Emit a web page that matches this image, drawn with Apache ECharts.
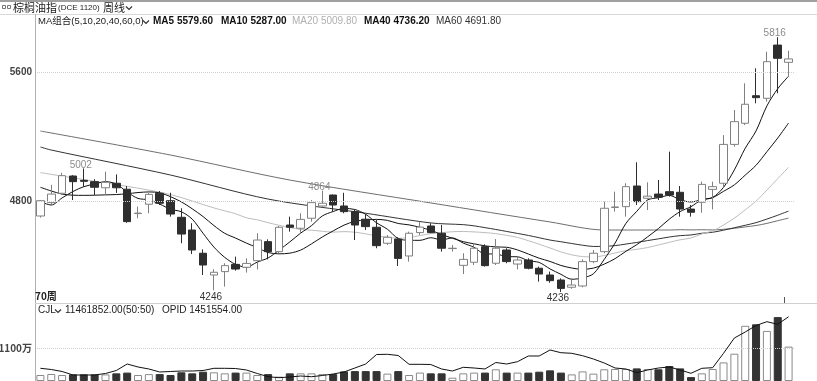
<!DOCTYPE html>
<html><head><meta charset="utf-8">
<script src="https://cdn.jsdelivr.net/npm/echarts@6/dist/echarts.min.js"></script>
<style>html,body{margin:0;padding:0;background:#fff}#c{width:817px;height:381px}</style>
</head><body><div id="c"></div>
<script>
// ---- data (weekly, 70 bars) ----
const weeks = ['1','2','3','4','5','6','7','8','9','10','11','12','13','14','15','16','17','18','19','20',
  '21','22','23','24','25','26','27','28','29','30','31','32','33','34','35','36','37','38','39','40',
  '41','42','43','44','45','46','47','48','49','50','51','52','53','54','55','56','57','58','59','60',
  '61','62','63','64','65','66','67','68','69','70'];
const opens = [4707,4790,4848,4955,4928,4920,4882,4910,4873,4722,
  4780,4848,4802,4699,4620,4476,4341,4362,4407,4389,
  4430,4548,4486,4651,4631,4693,4769,4837,4769,4734,
  4687,4637,4538,4564,4459,4604,4645,4600,4505,4401,
  4420,4517,4414,4496,4409,4434,4383,4341,4310,4265,
  4273,4424,4486,4760,4765,4893,4817,4843,4858,4854,
  4750,4792,4872,4910,5151,5282,5453,5437,5767,5660];
const closes = [4802,4843,4957,4920,4922,4885,4916,4882,4672,4725,
  4841,4786,4719,4595,4496,4403,4358,4399,4378,4413,
  4558,4486,4637,4637,4686,4790,4786,4775,4734,4651,
  4641,4523,4575,4444,4600,4638,4604,4507,4507,4438,
  4507,4399,4507,4424,4434,4383,4347,4306,4258,4279,
  4424,4476,4755,4763,4889,4796,4830,4823,4837,4750,
  4730,4903,4889,5151,5292,5400,5441,5664,5685,5681];
const lows = [4697,4775,4837,4806,4889,4837,4837,4850,4665,4693,
  4724,4775,4703,4538,4471,4341,4246,4269,4368,4356,
  4376,4438,4476,4610,4600,4672,4765,4734,4724,4558,
  4620,4507,4527,4397,4424,4589,4600,4486,4486,4347,
  4403,4393,4403,4414,4376,4376,4300,4293,4236,4255,
  4265,4414,4476,4734,4703,4775,4744,4806,4827,4703,
  4703,4727,4748,4889,5137,5271,5406,5416,5468,5571];
const highs = [4805,4900,4975,4960,5002,4935,4982,4965,4893,4765,
  4850,4862,4851,4755,4662,4500,4377,4414,4455,4444,
  4600,4562,4645,4703,4724,4806,4864,4840,4851,4744,
  4718,4682,4589,4575,4610,4672,4662,4651,4527,4476,
  4538,4531,4564,4507,4455,4445,4393,4362,4320,4320,
  4438,4496,4796,4858,4910,5040,4916,4930,5106,4893,
  4775,4920,4920,5209,5364,5530,5623,5726,5816,5732];
const volumes = [2000000,2330000,2000000,2200000,2200000,2200000,2200000,2550000,2800000,2000000,
  2300000,2300000,2000000,2900000,2550000,3100000,2900000,2550000,2800000,2800000,
  2000000,2300000,1450000,2550000,2550000,2550000,2300000,2300000,3200000,3300000,
  3300000,3300000,2450000,3300000,2000000,2800000,2550000,2550000,1100000,2550000,
  2800000,2800000,3900000,2800000,2800000,2800000,3100000,3550000,2800000,2200000,
  3200000,2450000,3900000,4000000,4000000,4200000,4000000,3900000,5000000,4200000,
  1300000,2550000,4000000,6200000,9100000,18400000,18900000,16700000,21300000,11461852];
const openInterest = [607800,588200,555500,498200,498200,498200,522700,571800,678200,629100,
  596400,547300,555500,563600,563600,571800,607800,607800,604500,580000,
  522700,470400,454000,465500,481800,470400,490000,514500,547300,612700,
  678200,833600,836900,817300,673300,673300,670000,596400,563600,624200,
  612700,596400,702700,678200,715800,809100,809100,907300,863100,853300,
  814000,760000,694500,612700,596400,535800,580000,612700,629100,580000,
  526000,607800,617600,853300,1103600,1201800,1308200,1370400,1327800,1451554];
const ma5Read  = [[0,4796],[1,4775],[2,4819],[3,4859]];
const ma10Read = [[0,4885],[1,4862],[2,4843],[3,4836],[4,4835],[5,4836],[6,4838],[7,4840],[8,4845]];
const ma20Read = [[0,4976],[4,4933],[8,4891],[12,4840],[16,4757],[18,4721]];
const ma40Read = [[0,5135],[1,5116],[12,4961],[21,4812],[30,4724],[36,4664]];
const ma60Read = [[0,5234],[12,5085],[23,4930],[36,4788],[47,4670],[52,4620],[58,4620]];
const priceTicks = [4800, 5600];
const volTicks = [11000000];
const volTickLabels = ['1100万'];
const highMarks = [4, 26, 68];
const lowMarks = [16, 48];

// ---- chart ----
const FONT = "'Liberation Sans','Noto Sans CJK SC',sans-serif";
const CJK = "'Noto Sans CJK SC','Liberation Sans',sans-serif";
function movingAverage(n, read) {
  const out = closes.map(() => null);
  read.forEach(([i, v]) => { out[i] = v; });
  for (let i = n - 1; i < closes.length; i++) {
    let s = 0;
    for (let k = i - n + 1; k <= i; k++) s += closes[k];
    out[i] = +(s / n).toFixed(2);
  }
  return out;
}
const candleData = weeks.map((w, i) => [opens[i], closes[i], lows[i], highs[i]]);
const volData = volumes.map((v, i) => ({
  value: v,
  itemStyle: closes[i] >= opens[i]
    ? { color: '#ffffff', borderColor: '#8a8a8a', borderWidth: 1 }
    : { color: '#333333', borderColor: '#333333', borderWidth: 1 }
}));
function maSeries(name, n, read, color) {
  return { name, type: 'line', xAxisIndex: 0, yAxisIndex: 0, data: movingAverage(n, read),
    showSymbol: false, symbol: 'none', connectNulls: true, smooth: 0.3, silent: true,
    lineStyle: { color, width: 1 }, z: 3 };
}
const chart = echarts.init(document.getElementById('c'), null, { renderer: 'canvas', width: 817, height: 381 });
const axisOff = { axisLine: { show: false }, axisTick: { show: false }, axisLabel: { show: false }, splitLine: { show: false } };
const txt = (text, x, y, opts) => ({ type: 'text', silent: true, z: 100,
  style: Object.assign({ text, x, y, fill: '#222', font: '10px ' + FONT, textVerticalAlign: 'middle' }, opts || {}) });
const ln = (x1, y1, x2, y2, stroke, w) => ({ type: 'line', silent: true, z: 90,
  shape: { x1, y1, x2, y2 }, style: { stroke, lineWidth: w || 1 } });
const chevron = (x, y) => ({ type: 'polyline', silent: true, z: 100,
  shape: { points: [[x, y - 1.5], [x + 3, y + 1.5], [x + 6, y - 1.5]] }, style: { stroke: '#333', lineWidth: 1.2, fill: 'none' } });

chart.setOption({
  animation: false,
  backgroundColor: '#ffffff',
  textStyle: { fontFamily: FONT },
  grid: [
    { left: 35, right: 23, top: 30, height: 272 },
    { left: 35, right: 23, top: 315, height: 66 }
  ],
  xAxis: [
    Object.assign({ type: 'category', data: weeks, gridIndex: 0, boundaryGap: true }, axisOff),
    Object.assign({ type: 'category', data: weeks, gridIndex: 1, boundaryGap: true }, axisOff)
  ],
  yAxis: [
    Object.assign({ type: 'value', gridIndex: 0, min: 4173.6, max: 5860.5, scale: true }, axisOff),
    Object.assign({ type: 'value', gridIndex: 1, min: 0, max: 22000000 }, axisOff),
    Object.assign({ type: 'value', gridIndex: 1, min: 400000, max: 1480000 }, axisOff)
  ],
  series: [
    {
      name: 'K', type: 'candlestick', xAxisIndex: 0, yAxisIndex: 0, data: candleData, barWidth: 8, z: 4,
      itemStyle: { color: '#ffffff', color0: '#2e2e2e', borderColor: '#808080', borderColor0: '#2e2e2e', borderWidth: 1 },
      markLine: {
        silent: true, symbol: ['none', 'none'], animation: false,
        lineStyle: { type: 'dotted', color: '#cfcfcf', width: 1 },
        label: { position: 'start', distance: 3, color: '#444', fontWeight: 'bold', fontSize: 10, fontFamily: FONT,
          formatter: p => String(p.value) },
        data: priceTicks.map(v => ({ yAxis: v }))
      },
      markPoint: {
        silent: true, symbol: 'rect', symbolSize: [1, 1], itemStyle: { color: 'rgba(0,0,0,0)' },
        data: highMarks.map(i => ({ coord: [weeks[i], highs[i]], value: highs[i],
          label: { show: true, position: 'top', distance: 0, offset: [-3, 2], color: '#8c8c8c', fontSize: 10, fontFamily: FONT, formatter: String(highs[i]) } }))
          .concat(lowMarks.map(i => ({ coord: [weeks[i], lows[i]], value: lows[i],
          label: { show: true, position: 'bottom', distance: 1, offset: [-3, 0], color: '#333', fontSize: 10, fontFamily: FONT, formatter: String(lows[i]) } })))
      }
    },
    maSeries('MA60', 60, ma60Read, '#6e6e6e'),
    maSeries('MA40', 40, ma40Read, '#333333'),
    maSeries('MA20', 20, ma20Read, '#bdbdbd'),
    maSeries('MA10', 10, ma10Read, '#111111'),
    maSeries('MA5', 5, ma5Read, '#111111'),
    {
      name: 'CJL', type: 'bar', xAxisIndex: 1, yAxisIndex: 1, data: volData, barWidth: 8, z: 2,
      markLine: {
        silent: true, symbol: ['none', 'none'], animation: false,
        lineStyle: { type: 'dotted', color: '#cfcfcf', width: 1 },
        label: { position: 'start', distance: 3, color: '#444', fontWeight: 'bold', fontSize: 10, fontFamily: CJK,
          formatter: p => volTickLabels[volTicks.indexOf(p.value)] },
        data: volTicks.map(v => ({ yAxis: v }))
      }
    },
    {
      name: 'OPID', type: 'line', xAxisIndex: 1, yAxisIndex: 2, data: openInterest, symbol: 'none', showSymbol: false,
      lineStyle: { color: '#111', width: 1 }, z: 5, silent: true
    }
  ],
  graphic: [
    ln(0, 1, 817, 1, '#a0a0a0', 2),
    ln(0, 14.5, 817, 14.5, '#d8d8d8', 1),
    ln(35.5, 14, 35.5, 381, '#b0b0b0', 1),
    ln(35, 303.5, 817, 303.5, '#d0d0d0', 1),
    ln(784.5, 297, 784.5, 303, '#555', 1),
    { type: 'rect', silent: true, shape: { x: 2.5, y: 5.5, width: 3, height: 3 }, style: { fill: 'none', stroke: '#777', lineWidth: 1 } },
    { type: 'rect', silent: true, shape: { x: 7.5, y: 5.5, width: 3, height: 3 }, style: { fill: 'none', stroke: '#777', lineWidth: 1 } },
    txt('棕榈油指', 13, 7.5, { font: '11px ' + CJK, fill: '#222' }),
    txt('(DCE 1120)', 58, 7.5, { font: '8px ' + FONT, fill: '#222' }),
    txt('周线', 103, 7.5, { font: '11px ' + CJK, fill: '#222' }),
    chevron(126, 8),
    txt('MA组合(5,10,20,40,60,0)', 38, 21, { font: '9.5px ' + FONT, fill: '#222' }),
    chevron(143, 22),
    txt('MA5 5579.60', 153, 21, { font: 'bold 10px ' + FONT, fill: '#111' }),
    txt('MA10 5287.00', 221, 21, { font: 'bold 10px ' + FONT, fill: '#111' }),
    txt('MA20 5009.80', 292, 21, { font: '10px ' + FONT, fill: '#b0b0b0' }),
    txt('MA40 4736.20', 364, 21, { font: 'bold 10px ' + FONT, fill: '#111' }),
    txt('MA60 4691.80', 436, 21, { font: '10px ' + FONT, fill: '#333' }),
    txt('70周', 35, 296, { font: 'bold 10px ' + CJK, fill: '#222' }),
    txt('CJL', 38, 310, { font: '10px ' + FONT, fill: '#222' }),
    chevron(55, 311),
    txt('11461852.00(50:50)', 65, 310, { font: '10px ' + FONT, fill: '#222' }),
    txt('OPID 1451554.00', 162, 310, { font: '10px ' + FONT, fill: '#222' })
  ]
});
</script></body></html>
